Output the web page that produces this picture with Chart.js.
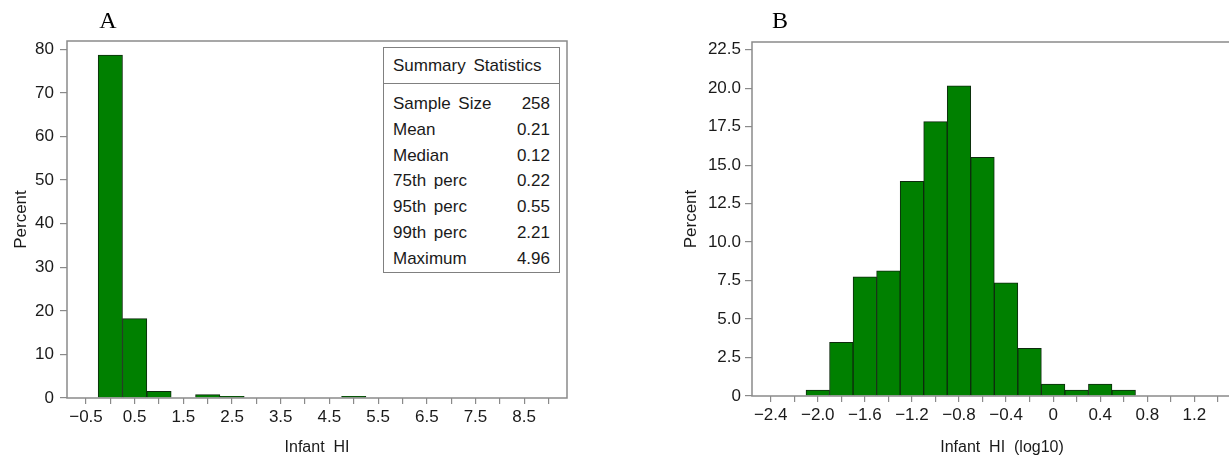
<!DOCTYPE html>
<html>
<head>
<meta charset="utf-8">
<title>Infant HI histograms</title>
<script src="https://cdn.jsdelivr.net/npm/chart.js@4.4.1/dist/chart.umd.min.js"></script>
<style>
  html, body { margin:0; padding:0; background:#fff; width:1229px; height:459px; overflow:hidden; position:relative; }
  canvas { position:absolute; top:0; }
  #chart-a { left:0; }
  #chart-b { left:620px; }
  .panel-tag { position:absolute; top:8px; width:40px; text-align:center; line-height:24px;
               font-family:"Liberation Serif","Times New Roman",serif; font-size:24px; color:#000; }
  .stats { position:absolute; left:383px; top:47px; width:177px; height:226px; box-sizing:border-box;
           border:1.5px solid #808080; background:#fff; color:#1a1a1a;
           font-family:"Liberation Sans",Arial,sans-serif; font-size:17px; }
  .stats .head { height:35px; line-height:35px; padding-left:9px; border-bottom:1.5px solid #808080; word-spacing:3px; }
  .stats .rows { margin-top:7px; }
  .stats .row { display:flex; justify-content:space-between; height:25.8px; line-height:25.8px; padding:0 9px; word-spacing:3px; }
</style>
</head>
<body>
<canvas id="chart-a" width="600" height="459"></canvas>
<canvas id="chart-b" width="640" height="459"></canvas>
<div class="panel-tag" style="left:88px">A</div>
<div class="panel-tag" style="left:760px">B</div>
<div class="stats" id="stats"></div>

<script>
// ── Datos ──────────────────────────────────────────────────────────────────
// Panel A: Infant HI, bins de 0.5 (centro del bin)
const binsA = [0, 0.5, 1.0, 1.5, 2.0, 2.5, 3.0, 3.5, 4.0, 4.5, 5.0];
const pctA  = [78.68, 18.22, 1.55, 0, 0.78, 0.39, 0, 0, 0, 0, 0.39];
const xLabelValsA = [-0.5, 0.5, 1.5, 2.5, 3.5, 4.5, 5.5, 6.5, 7.5, 8.5];
const xLabelsA    = ['\u22120.5','0.5','1.5','2.5','3.5','4.5','5.5','6.5','7.5','8.5'];
const yTicksA     = [0, 10, 20, 30, 40, 50, 60, 70, 80];

// Panel B: Infant HI (log10), bins de 0.2
const binsB = [-2.0, -1.8, -1.6, -1.4, -1.2, -1.0, -0.8, -0.6, -0.4, -0.2, 0, 0.2, 0.4, 0.6];
const pctB  = [0.39, 3.49, 7.75, 8.14, 13.95, 17.83, 20.16, 15.50, 7.36, 3.10, 0.78, 0.39, 0.78, 0.39];
const xLabelValsB = [-2.4, -2.0, -1.6, -1.2, -0.8, -0.4, 0, 0.4, 0.8, 1.2];
const xLabelsB    = ['\u22122.4','\u22122.0','\u22121.6','\u22121.2','\u22120.8','\u22120.4','0','0.4','0.8','1.2'];
const yTicksB     = [0, 2.5, 5, 7.5, 10, 12.5, 15, 17.5, 20, 22.5];
const yLabelsB    = ['0','2.5','5.0','7.5','10.0','12.5','15.0','17.5','20.0','22.5'];

// Tabla de resumen
const statNames  = ['Sample Size','Mean','Median','75th perc','95th perc','99th perc','Maximum'];
const statValues = ['258','0.21','0.12','0.22','0.55','2.21','4.96'];

// ── Estilos comunes ────────────────────────────────────────────────────────
const FONT = '"Liberation Sans", Arial, sans-serif';
const INK = '#1a1a1a';
const FRAME = '#8a8a8a';
const GREEN = '#008000';
const EDGE = '#0e2a0e';

// marco gris alrededor del área de datos
const framePlugin = {
  id:'frame',
  afterDatasetsDraw(chart) {
    const {ctx, chartArea:a} = chart;
    ctx.save();
    ctx.strokeStyle = FRAME;
    ctx.lineWidth = 1.5;
    ctx.strokeRect(a.left, a.top, a.right - a.left, a.bottom - a.top);
    ctx.restore();
  }
};

// posiciones de tick cada `step` (las etiquetas salen de las listas de arriba)
function tickRange(from, to, step) {
  const out = [];
  for (let v = from; v <= to + 1e-9; v += step) out.push(Math.round(v * 100) / 100);
  return out;
}

function labelFor(vals, labels) {
  return v => {
    const i = vals.findIndex(x => Math.abs(x - v) < 1e-6);
    return i < 0 ? '' : labels[i];
  };
}

function histogram(canvasId, cfg) {
  const data = cfg.bins.map((b, i) => ({x:b, y:cfg.pct[i]}));
  return new Chart(document.getElementById(canvasId), {
    type:'bar',
    data:{
      datasets:[{
        data,
        backgroundColor:GREEN, borderColor:EDGE, borderWidth:1,
        borderSkipped:'start', barPercentage:1, categoryPercentage:1,
      }]
    },
    options:{
      responsive:false, animation:false,
      layout:{padding:cfg.padding},
      plugins:{legend:{display:false}, tooltip:{enabled:false}},
      scales:{
        x:{
          type:'linear', min:cfg.xMin, max:cfg.xMax, offset:false,
          afterBuildTicks:s => { s.ticks = cfg.xTicks.map(v => ({value:v})); },
          afterFit:s => { s.height = cfg.xHeight; },
          grid:{offset:false, drawOnChartArea:false, drawTicks:true, tickLength:6, color:FRAME, lineWidth:1.2},
          border:{display:false},
          ticks:{color:INK, font:{family:FONT, size:17}, padding:3, maxRotation:0, autoSkip:false,
                 callback:labelFor(cfg.xLabelVals, cfg.xLabels)},
          title:{display:true, text:cfg.xTitle, color:INK, font:{family:FONT, size:16}, padding:{top:0, bottom:2}},
        },
        y:{
          type:'linear', min:0, max:cfg.yMax,
          afterBuildTicks:s => { s.ticks = cfg.yTicks.map(v => ({value:v})); },
          afterFit:s => { s.width = cfg.yWidth; },
          grid:{drawOnChartArea:false, drawTicks:true, tickLength:7, color:FRAME, lineWidth:1.2},
          border:{display:false},
          ticks:{color:INK, font:{family:FONT, size:17}, padding:cfg.yPad, autoSkip:false,
                 callback:cfg.yFormat},
          title:{display:true, text:'Percent', color:INK, font:{family:FONT, size:17}, padding:{top:cfg.yTitlePad, bottom:0}},
        }
      }
    },
    plugins:[framePlugin]
  });
}

histogram('chart-a', {
  bins:binsA, pct:pctA,
  xMin:-0.89, xMax:9.38, xTicks:tickRange(-0.5, 9.0, 0.5),
  xLabelVals:xLabelValsA, xLabels:xLabelsA, xTitle:'Infant  HI',
  yMax:81.9, yTicks:yTicksA, yFormat:v => String(v),
  padding:{top:41, right:33, bottom:0, left:0},
  xHeight:61, yWidth:67, yPad:6, yTitlePad:11,
});

histogram('chart-b', {
  bins:binsB, pct:pctB,
  xMin:-2.559, xMax:1.69, xTicks:tickRange(-2.4, 1.4, 0.2),
  xLabelVals:xLabelValsB, xLabels:xLabelsB, xTitle:'Infant  HI  (log10)',
  yMax:23.0, yTicks:yTicksB, yFormat:labelFor(yTicksB, yLabelsB),
  padding:{top:42, right:8, bottom:0, left:0},
  xHeight:63, yWidth:132, yPad:4, yTitlePad:61,
});

// ── Tabla de resumen ───────────────────────────────────────────────────────
const box = document.getElementById('stats');
box.innerHTML = '<div class="head">Summary Statistics</div><div class="rows">' +
  statNames.map((n, i) => `<div class="row"><span>${n}</span><span>${statValues[i]}</span></div>`).join('') +
  '</div>';
</script>
</body>
</html>
